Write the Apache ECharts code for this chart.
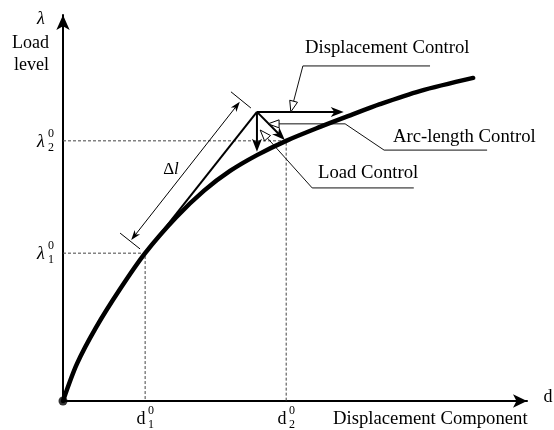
<!DOCTYPE html>
<html>
<head>
<meta charset="utf-8">
<script src="https://cdn.jsdelivr.net/npm/echarts@6/dist/echarts.min.js"></script>
<style>
  html, body { margin: 0; background: #fff; }
  #chart { width: 554px; height: 430px; }
</style>
</head>
<body>
<div id="chart"></div>
<script>
// load-displacement path (d, lambda)
var curveD = [0, 3.0, 7.1, 12.3, 17.7, 24.4, 30.4, 36.0, 41.8, 48.1, 55.4, 61.9, 68.3, 76.9, 88.4];
var curveL = [0, 9.6, 19.0, 29.0, 38.3, 47.6, 54.5, 59.6, 63.7, 67.4, 71.0, 74.0, 76.9, 80.3, 83.7];

// reference levels  lambda1, lambda2  /  d1, d2
var lambda0 = [38.3, 67.4];
var d0 = [17.7, 48.1];

// predictor point and the tangent it comes from
var tangentFrom = [17.7, 38.3];
var predictor = [41.8, 74.9];

// where the three corrector arrows end
var dispEnd = [60.5, 74.9];
var loadEnd = [41.8, 64.6];
var arcEnd = [47.8, 67.6];

// delta-l dimension line and its two end ticks
var dimLine = [[14.7, 41.7], [38.1, 77.5]];
var dimTickTop = [[36.2, 80.1], [40.5, 75.9]];
var dimTickBottom = [[12.3, 43.5], [16.6, 39.4]];

// callout leaders, first point is the hollow arrow tip
var dispLeader = [[49.1, 74.9], [51.7, 86.8], [79.1, 86.8]];
var arcLeader = [[44.2, 71.8], [60.8, 71.8], [69.2, 65.0], [91.4, 65.0]];
var loadLeader = [[42.5, 70.2], [53.7, 55.2], [75.6, 55.2]];

var FONT = '"Liberation Serif", "DejaVu Serif", serif';

// arrow head with tip at q, coming from p (pixels). returns [shape, basePoint]
function arrowHead(p, q, len, half, hollow) {
  var dx = q[0] - p[0], dy = q[1] - p[1];
  var n = Math.sqrt(dx * dx + dy * dy);
  var ux = dx / n, uy = dy / n;
  var bx = q[0] - ux * len, by = q[1] - uy * len;
  var pts = [q, [bx - uy * half, by + ux * half]];
  if (!hollow) pts.push([q[0] - ux * len * 0.72, q[1] - uy * len * 0.72]);
  pts.push([bx + uy * half, by - ux * half]);
  var shape = {
    type: 'polygon',
    shape: { points: pts },
    style: hollow ? { fill: '#fff', stroke: '#000', lineWidth: 1 } : { fill: '#000' }
  };
  var base = hollow ? [bx, by] : [q[0] - ux * len * 0.6, q[1] - uy * len * 0.6];
  return [shape, base];
}

function arrowLine(api, a, b, width, len, half) {
  var p = api.coord(a), q = api.coord(b);
  var h = arrowHead(p, q, len, half, false);
  return [
    { type: 'line', shape: { x1: p[0], y1: p[1], x2: h[1][0], y2: h[1][1] },
      style: { stroke: '#000', lineWidth: width } },
    h[0]
  ];
}

function leader(api, pts) {
  var px = pts.map(function (d) { return api.coord(d); });
  var h = arrowHead(px[1], px[0], 11, 4, true);
  var line = [h[1]].concat(px.slice(1));
  return [
    { type: 'polyline', shape: { points: line },
      style: { stroke: '#111', lineWidth: 1, fill: null } },
    h[0]
  ];
}

function tick(api, seg) {
  var a = api.coord(seg[0]), b = api.coord(seg[1]);
  return { type: 'line', shape: { x1: a[0], y1: a[1], x2: b[0], y2: b[1] },
    style: { stroke: '#000', lineWidth: 1 } };
}

function shapes(build) {
  return {
    type: 'custom',
    coordinateSystem: 'cartesian2d',
    clip: false,
    silent: true,
    data: [[0, 0]],
    renderItem: function (params, api) {
      return { type: 'group', children: build(api) };
    }
  };
}

function dashed(points) {
  return {
    type: 'line',
    data: points,
    showSymbol: false,
    silent: true,
    lineStyle: { color: '#444', width: 1, type: [3, 2] },
    z: 1
  };
}

function txt(x, y, text, size, align, extra) {
  var st = { text: text, x: x, y: y, font: (extra || '') + ' ' + size + 'px ' + FONT,
    fill: '#000', textAlign: align || 'left', textVerticalAlign: 'middle' };
  return { type: 'text', silent: true, style: st, z: 100 };
}

function indexed(x, y, main, sup, sub, italic) {
  return [
    txt(x, y, main, 18, 'center', italic ? 'italic' : ''),
    txt(x + 10, y - 8, sup, 12, 'center'),
    txt(x + 10, y + 6, sub, 12, 'center')
  ];
}

var chart = echarts.init(document.getElementById('chart'));

chart.setOption({
  animation: false,
  backgroundColor: '#fff',
  grid: { left: 63, right: 27, top: 15, bottom: 29 },
  xAxis: {
    type: 'value', min: 0, max: 100,
    axisLine: { show: true, symbol: ['none', 'arrow'], symbolSize: [10, 14],
      lineStyle: { color: '#000', width: 2 } },
    axisTick: { show: false }, axisLabel: { show: false }, splitLine: { show: false }
  },
  yAxis: {
    type: 'value', min: 0, max: 100,
    axisLine: { show: true, symbol: ['none', 'arrow'], symbolSize: [10, 15],
      lineStyle: { color: '#000', width: 2 } },
    axisTick: { show: false }, axisLabel: { show: false }, splitLine: { show: false }
  },
  series: [
    dashed([[0, lambda0[0]], [d0[0], lambda0[0]], [d0[0], 0]]),
    dashed([[0, lambda0[1]], [d0[1], lambda0[1]], [d0[1], 0]]),
    {
      type: 'line',
      data: curveD.map(function (d, i) { return [d, curveL[i]]; }),
      smooth: 0.3,
      showSymbol: false,
      silent: true,
      lineStyle: { color: '#000', width: 4.5, cap: 'round' },
      z: 5
    },
    {
      type: 'line',
      data: [tangentFrom, predictor],
      showSymbol: false,
      silent: true,
      lineStyle: { color: '#000', width: 2 },
      z: 4
    },
    {
      type: 'scatter',
      data: [[0, 0]],
      symbolSize: 9,
      itemStyle: { color: '#000' },
      silent: true,
      clip: false,
      z: 6
    },
    shapes(function (api) {
      return []
        .concat(arrowLine(api, predictor, dispEnd, 2, 13, 5))
        .concat(arrowLine(api, predictor, loadEnd, 2, 13, 5))
        .concat(arrowLine(api, predictor, arcEnd, 2, 13, 5));
    }),
    shapes(function (api) {
      var a = api.coord(dimLine[0]), b = api.coord(dimLine[1]);
      var h1 = arrowHead(a, b, 10, 3.5, false);
      var h2 = arrowHead(b, a, 10, 3.5, false);
      return [
        { type: 'line', shape: { x1: h2[1][0], y1: h2[1][1], x2: h1[1][0], y2: h1[1][1] },
          style: { stroke: '#000', lineWidth: 1 } },
        h1[0], h2[0],
        tick(api, dimTickTop), tick(api, dimTickBottom)
      ];
    }),
    shapes(function (api) {
      return []
        .concat(leader(api, dispLeader))
        .concat(leader(api, arcLeader))
        .concat(leader(api, loadLeader));
    })
  ],
  graphic: [
    txt(41, 19, 'λ', 18, 'center', 'italic'),
    txt(49, 43, 'Load', 18, 'right'),
    txt(49, 65, 'level', 18, 'right'),
    txt(548, 397, 'd', 18, 'center'),
    txt(333, 419, 'Displacement Component', 18.7, 'left'),
    txt(305, 48, 'Displacement Control', 18.7, 'left'),
    txt(393, 137, 'Arc-length Control', 18.7, 'left'),
    txt(318, 173, 'Load Control', 18.7, 'left'),
    {
      type: 'text', silent: true, z: 100,
      style: {
        text: '{a|Δ}{b|l}', x: 171, y: 170, textAlign: 'center', textVerticalAlign: 'middle',
        rich: {
          a: { fontFamily: FONT, fontSize: 17, fill: '#000' },
          b: { fontFamily: FONT, fontSize: 17, fontStyle: 'italic', fill: '#000' }
        }
      }
    }
  ]
    .concat(indexed(41, 142, 'λ', '0', '2', true))
    .concat(indexed(41, 254, 'λ', '0', '1', true))
    .concat(indexed(141, 419, 'd', '0', '1', false))
    .concat(indexed(282, 419, 'd', '0', '2', false))
});
</script>
</body>
</html>
